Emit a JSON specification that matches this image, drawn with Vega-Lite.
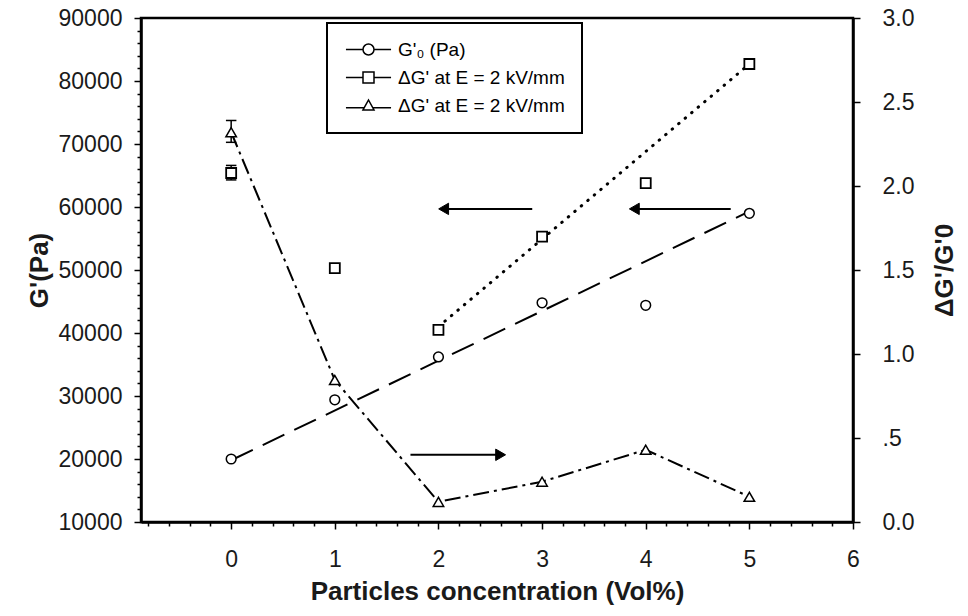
{
  "$schema": "https://vega.github.io/schema/vega-lite/v6.json",
  "width": 712,
  "height": 504,
  "autosize": {"type": "none"},
  "padding": {"left": 141, "top": 18, "right": 115, "bottom": 94},
  "background": "white",
  "config": {
    "font": "Liberation Sans",
    "view": {"stroke": "black", "strokeWidth": 2.5},
    "axis": {
      "grid": false,
      "domainColor": "black",
      "domainWidth": 2.5,
      "tickColor": "black",
      "tickWidth": 1.5,
      "labelFont": "Liberation Sans",
      "labelFontSize": 23,
      "labelColor": "#1a1a1a",
      "titleFont": "Liberation Sans",
      "titleFontSize": 26,
      "titleFontWeight": "bold",
      "titleColor": "#1a1a1a",
      "labelOverlap": false,
      "labelBound": false,
      "labelFlush": false
    },
    "legend": {
      "strokeColor": "black",
      "strokeWidth": 2,
      "fillColor": "white",
      "padding": 17,
      "rowPadding": 8
    }
  },
  "datasets": {
    "g0": [{"x": 0, "y": 20000}, {"x": 1, "y": 29400}, {"x": 2, "y": 36200}, {"x": 3, "y": 44800}, {"x": 4, "y": 44400}, {"x": 5, "y": 59000}],
    "dg": [{"x": 0, "y": 65400}, {"x": 1, "y": 50300}, {"x": 2, "y": 40500}, {"x": 3, "y": 55300}, {"x": 4, "y": 63800}, {"x": 5, "y": 82700}],
    "tri": [{"x": 0, "y": 2.32}, {"x": 1, "y": 0.845}, {"x": 2, "y": 0.12}, {"x": 3, "y": 0.24}, {"x": 4, "y": 0.43}, {"x": 5, "y": 0.15}],
    "fitG0": [{"x": 0, "y": 19800}, {"x": 5, "y": 59300}],
    "fitDG": [{"x": 2, "y": 41000}, {"x": 5, "y": 82700}],
    "errSq": [{"x": 0, "y": 64300, "y2": 66600}],
    "capSq": [{"x": 0, "y": 64300}, {"x": 0, "y": 66600}],
    "errTri": [{"x": 0, "y": 2.26, "y2": 2.39}],
    "capTri": [{"x": 0, "y": 2.26}, {"x": 0, "y": 2.39}],
    "arrowsL": [{"x": 2.05, "xe": 2.905, "y": 59700}, {"x": 3.89, "xe": 4.82, "y": 59700}],
    "arrowsR": [{"x": 2.6, "xe": 1.73, "y": 0.4}],
    "legendKeys": [{"series": "a"}, {"series": "b"}, {"series": "c"}]
  },
  "layer": [
    {
      "encoding": {
        "x": {
          "field": "x", "type": "quantitative",
          "scale": {"domain": [-0.87, 6], "nice": false, "zero": false},
          "axis": {
            "title": "Particles concentration (Vol%)",
            "values": [-0.8, -0.6, -0.4, -0.2, 0, 0.2, 0.4, 0.6, 0.8, 1, 1.2, 1.4, 1.6, 1.8, 2, 2.2, 2.4, 2.6, 2.8, 3, 3.2, 3.4, 3.6, 3.8, 4, 4.2, 4.4, 4.6, 4.8, 5, 5.2, 5.4, 5.6, 5.8, 6],
            "labelExpr": "abs(datum.value - round(datum.value)) < 0.001 && datum.value >= 0 ? format(round(datum.value), 'd') : ''",
            "tickSize": {"condition": {"test": "abs(datum.value - round(datum.value)) < 0.001", "value": 7}, "value": 4},
            "labelPadding": 19,
            "titlePadding": 7
          }
        },
        "y": {
          "field": "y", "type": "quantitative",
          "scale": {"domain": [10000, 90000], "nice": false, "zero": false},
          "axis": {
            "title": "G'(Pa)",
            "values": [10000, 12000, 14000, 16000, 18000, 20000, 22000, 24000, 26000, 28000, 30000, 32000, 34000, 36000, 38000, 40000, 42000, 44000, 46000, 48000, 50000, 52000, 54000, 56000, 58000, 60000, 62000, 64000, 66000, 68000, 70000, 72000, 74000, 76000, 78000, 80000, 82000, 84000, 86000, 88000, 90000],
            "labelExpr": "datum.value % 10000 === 0 ? format(datum.value, 'd') : ''",
            "tickSize": {"condition": {"test": "datum.value % 10000 === 0", "value": 7}, "value": 4},
            "labelPadding": 12,
            "titlePadding": 6
          }
        }
      },
      "layer": [
        {"data": {"name": "fitG0"}, "mark": {"type": "line", "stroke": "black", "strokeWidth": 2, "strokeDash": [24, 11]}},
        {"data": {"name": "fitDG"}, "mark": {"type": "line", "stroke": "black", "strokeWidth": 3, "strokeDash": [0.5, 8], "strokeCap": "round"}},
        {"data": {"name": "errSq"}, "mark": {"type": "rule", "stroke": "black", "strokeWidth": 1.5}, "encoding": {"y2": {"field": "y2"}}},
        {"data": {"name": "capSq"}, "mark": {"type": "point", "shape": "M-1,0L1,0", "size": 110, "stroke": "black", "strokeWidth": 1.5, "opacity": 1}},
        {"data": {"name": "g0"}, "mark": {"type": "point", "shape": "circle", "size": 95, "filled": true, "fill": "white", "stroke": "black", "strokeWidth": 1.5, "opacity": 1}},
        {"data": {"name": "dg"}, "mark": {"type": "point", "shape": "square", "size": 100, "filled": true, "fill": "white", "stroke": "black", "strokeWidth": 1.8, "opacity": 1}},
        {"data": {"name": "arrowsL"}, "mark": {"type": "rule", "stroke": "black", "strokeWidth": 2}, "encoding": {"x2": {"field": "xe"}}},
        {"data": {"name": "arrowsL"}, "mark": {"type": "point", "shape": "triangle-left", "size": 130, "filled": true, "fill": "black", "stroke": "black", "strokeWidth": 1, "opacity": 1}},
        {
          "data": {"name": "legendKeys"},
          "transform": [{"filter": "false"}],
          "mark": {"type": "point", "size": 121, "filled": false, "stroke": "black", "color": "black", "strokeWidth": 1.5, "opacity": 1},
          "encoding": {
            "shape": {
              "field": "series", "type": "nominal",
              "scale": {
                "domain": ["a", "b", "c"],
                "range": [
                  "M-4.1,0L-1,0M1,0L4.1,0M-1,0A1,1,0,1,1,1,0A1,1,0,1,1,-1,0Z",
                  "M-4.1,0L-1,0M1,0L4.1,0M-1,-1L1,-1L1,1L-1,1Z",
                  "M-4.1,0.4L-0.78,0.4M0.78,0.4L4.1,0.4M-1,0.8L0,-1L1,0.8Z"
                ]
              },
              "legend": {
                "title": null,
                "orient": "none",
                "legendX": 186,
                "legendY": 5,
                "direction": "vertical",
                "symbolSize": 121,
                "symbolOffset": 15,
                "labelOffset": 20,
                "labelLimit": 400,
                "labelFont": "Liberation Sans",
                "labelFontSize": 19,
                "labelColor": "black",
                "symbolStrokeColor": "black",
                "symbolStrokeWidth": 1.5,
                "labelExpr": "datum.label == 'a' ? \"G'₀ (Pa)\" : \"ΔG' at E = 2 kV/mm\""
              }
            }
          }
        }
      ]
    },
    {
      "encoding": {
        "x": {
          "field": "x", "type": "quantitative",
          "scale": {"domain": [-0.87, 6], "nice": false, "zero": false},
          "axis": {
            "title": "Particles concentration (Vol%)",
            "values": [-0.8, -0.6, -0.4, -0.2, 0, 0.2, 0.4, 0.6, 0.8, 1, 1.2, 1.4, 1.6, 1.8, 2, 2.2, 2.4, 2.6, 2.8, 3, 3.2, 3.4, 3.6, 3.8, 4, 4.2, 4.4, 4.6, 4.8, 5, 5.2, 5.4, 5.6, 5.8, 6],
            "labelExpr": "abs(datum.value - round(datum.value)) < 0.001 && datum.value >= 0 ? format(round(datum.value), 'd') : ''",
            "tickSize": {"condition": {"test": "abs(datum.value - round(datum.value)) < 0.001", "value": 7}, "value": 4},
            "labelPadding": 19,
            "titlePadding": 7
          }
        },
        "y": {
          "field": "y", "type": "quantitative",
          "scale": {"domain": [0, 3], "nice": false, "zero": false},
          "axis": {
            "title": "ΔG'/G'0",
            "titleAngle": 270,
            "values": [0, 0.5, 1, 1.5, 2, 2.5, 3],
            "labelExpr": "datum.value === 0.5 ? '.5' : format(datum.value, '.1f')",
            "tickSize": 7,
            "labelPadding": 22,
            "titlePadding": 44
          }
        }
      },
      "layer": [
        {"data": {"name": "tri"}, "mark": {"type": "line", "stroke": "black", "strokeWidth": 2, "strokeDash": [16, 5, 3, 5]}},
        {"data": {"name": "errTri"}, "mark": {"type": "rule", "stroke": "black", "strokeWidth": 1.5}, "encoding": {"y2": {"field": "y2"}}},
        {"data": {"name": "capTri"}, "mark": {"type": "point", "shape": "M-1,0L1,0", "size": 110, "stroke": "black", "strokeWidth": 1.5, "opacity": 1}},
        {"data": {"name": "tri"}, "mark": {"type": "point", "shape": "triangle-up", "size": 110, "filled": true, "fill": "white", "stroke": "black", "strokeWidth": 1.5, "opacity": 1}},
        {"data": {"name": "arrowsR"}, "mark": {"type": "rule", "stroke": "black", "strokeWidth": 2}, "encoding": {"x2": {"field": "xe"}}},
        {"data": {"name": "arrowsR"}, "mark": {"type": "point", "shape": "triangle-right", "size": 130, "filled": true, "fill": "black", "stroke": "black", "strokeWidth": 1, "opacity": 1}}
      ]
    }
  ],
  "resolve": {"scale": {"y": "independent"}}
}
